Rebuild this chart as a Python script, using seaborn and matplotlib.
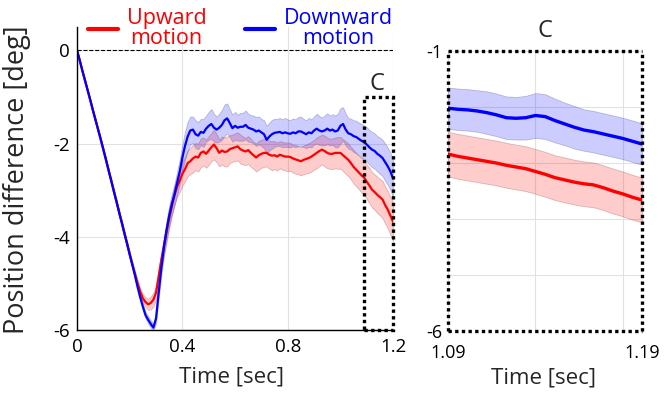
import numpy as np
import pandas as pd
import matplotlib
matplotlib.use("Agg")
import matplotlib.pyplot as plt
import seaborn as sns
from matplotlib.patches import Rectangle

# ---- data ----
time = np.round(np.arange(0, 1.2001, 0.01), 2)

upward = [
    0.00, -0.21, -0.43, -0.64, -0.85, -1.06, -1.28, -1.49, -1.70, -1.91,
    -2.13, -2.35, -2.58, -2.80, -3.03, -3.25, -3.48, -3.70, -3.93, -4.15,
    -4.38, -4.60, -4.80, -5.00, -5.18, -5.32, -5.40, -5.45, -5.42, -5.35,
    -5.20, -4.85, -4.50, -4.20, -3.90, -3.60, -3.35, -3.10, -2.92, -2.80,
    -2.65, -2.55, -2.42, -2.38, -2.32, -2.28, -2.30, -2.20, -2.17, -2.22,
    -2.15, -2.08, -2.02, -2.10, -2.20, -2.15, -2.18, -2.17, -2.12, -2.10,
    -2.08, -2.06, -2.12, -2.15, -2.17, -2.14, -2.20, -2.25, -2.30, -2.25,
    -2.22, -2.20, -2.20, -2.24, -2.26, -2.25, -2.28, -2.24, -2.26, -2.28,
    -2.28, -2.29, -2.32, -2.34, -2.36, -2.38, -2.35, -2.33, -2.31, -2.28,
    -2.24, -2.20, -2.16, -2.13, -2.16, -2.20, -2.22, -2.22, -2.20, -2.20,
    -2.20, -2.25, -2.30, -2.35, -2.42, -2.50, -2.56, -2.62, -2.68, -2.73,
    -2.82, -2.90, -2.99, -3.04, -3.10, -3.15, -3.20, -3.32, -3.42, -3.55,
    -3.68,
]
downward = [
    0.00, -0.21, -0.43, -0.64, -0.85, -1.06, -1.28, -1.49, -1.70, -1.91,
    -2.13, -2.35, -2.58, -2.80, -3.03, -3.25, -3.48, -3.70, -3.93, -4.15,
    -4.38, -4.60, -4.83, -5.08, -5.30, -5.50, -5.68, -5.78, -5.87, -5.95,
    -5.75, -5.20, -4.68, -4.22, -3.85, -3.55, -3.30, -3.10, -2.85, -2.60,
    -2.30, -2.05, -1.85, -1.72, -1.70, -1.80, -1.83, -1.75, -1.77, -1.68,
    -1.62, -1.58, -1.66, -1.70, -1.66, -1.60, -1.50, -1.46, -1.56, -1.67,
    -1.62, -1.66, -1.64, -1.64, -1.60, -1.66, -1.68, -1.70, -1.74, -1.72,
    -1.76, -1.80, -1.92, -1.85, -1.80, -1.77, -1.76, -1.75, -1.78, -1.76,
    -1.78, -1.79, -1.76, -1.78, -1.74, -1.74, -1.77, -1.80, -1.76, -1.78,
    -1.72, -1.68, -1.72, -1.74, -1.72, -1.68, -1.72, -1.70, -1.74, -1.72,
    -1.62, -1.58, -1.70, -1.78, -1.80, -1.84, -1.86, -1.90, -1.94, -1.97,
    -2.02, -2.08, -2.13, -2.16, -2.22, -2.26, -2.31, -2.40, -2.49, -2.60,
    -2.75,
]
upward_sem = [
    0.00, 0.01, 0.01, 0.02, 0.02, 0.02, 0.03, 0.03, 0.03, 0.03,
    0.04, 0.04, 0.04, 0.04, 0.05, 0.05, 0.05, 0.05, 0.06, 0.06,
    0.06, 0.07, 0.07, 0.08, 0.08, 0.09, 0.10, 0.12, 0.14, 0.15,
    0.15, 0.16, 0.18, 0.20, 0.22, 0.22, 0.20, 0.20, 0.22, 0.24,
    0.25, 0.26, 0.28, 0.28, 0.30, 0.29, 0.30, 0.31, 0.30, 0.30,
    0.31, 0.30, 0.32, 0.30, 0.29, 0.30, 0.31, 0.32, 0.30, 0.29,
    0.30, 0.30, 0.31, 0.30, 0.29, 0.30, 0.30, 0.29, 0.30, 0.31,
    0.30, 0.30, 0.29, 0.30, 0.31, 0.30, 0.30, 0.29, 0.30, 0.30,
    0.31, 0.30, 0.30, 0.31, 0.30, 0.30, 0.31, 0.31, 0.32, 0.32,
    0.32, 0.33, 0.32, 0.32, 0.33, 0.33, 0.32, 0.33, 0.33, 0.34,
    0.34, 0.34, 0.35, 0.35, 0.35, 0.36, 0.36, 0.36, 0.37, 0.37,
    0.37, 0.38, 0.38, 0.38, 0.39, 0.39, 0.40, 0.40, 0.40, 0.41,
    0.42,
]
downward_sem = [
    0.00, 0.01, 0.01, 0.02, 0.02, 0.02, 0.03, 0.03, 0.03, 0.03,
    0.04, 0.04, 0.04, 0.04, 0.05, 0.05, 0.05, 0.05, 0.05, 0.05,
    0.05, 0.05, 0.06, 0.06, 0.06, 0.07, 0.07, 0.08, 0.08, 0.08,
    0.10, 0.12, 0.15, 0.18, 0.20, 0.22, 0.22, 0.24, 0.25, 0.26,
    0.28, 0.30, 0.32, 0.30, 0.28, 0.30, 0.29, 0.28, 0.30, 0.28,
    0.30, 0.32, 0.30, 0.28, 0.30, 0.32, 0.34, 0.32, 0.30, 0.29,
    0.30, 0.28, 0.30, 0.30, 0.31, 0.30, 0.29, 0.30, 0.31, 0.30,
    0.29, 0.30, 0.30, 0.30, 0.31, 0.30, 0.29, 0.30, 0.30, 0.31,
    0.30, 0.29, 0.30, 0.30, 0.31, 0.32, 0.30, 0.30, 0.31, 0.30,
    0.30, 0.32, 0.31, 0.30, 0.32, 0.33, 0.32, 0.33, 0.34, 0.36,
    0.38, 0.36, 0.34, 0.33, 0.33, 0.34, 0.35, 0.35, 0.36, 0.36,
    0.37, 0.37, 0.38, 0.38, 0.38, 0.39, 0.39, 0.40, 0.40, 0.40,
    0.41,
]

# zoomed window C (1.09 - 1.19 s)
zoom_time = np.round(np.arange(1.09, 1.19001, 0.005), 3)
zoom_upward = [-2.84, -2.88, -2.91, -2.94, -2.97, -3.00, -3.04, -3.07, -3.10, -3.15,
               -3.20, -3.26, -3.30, -3.34, -3.37, -3.39, -3.44, -3.50, -3.55, -3.61,
               -3.66]
zoom_downward = [-2.02, -2.04, -2.05, -2.07, -2.10, -2.14, -2.19, -2.20, -2.19, -2.15,
                 -2.17, -2.24, -2.30, -2.36, -2.41, -2.44, -2.48, -2.52, -2.56, -2.61,
                 -2.66]
zoom_upward_sem = [0.40] * 21
zoom_downward_sem = [0.37, 0.37, 0.37, 0.37, 0.38, 0.38, 0.38, 0.38, 0.39, 0.40,
                     0.40, 0.39, 0.38, 0.38, 0.37, 0.37, 0.37, 0.37, 0.37, 0.37,
                     0.37]

RED = "#ff0000"
BLUE = "#0000ff"
DOTS = (0, (1, 1))

sns.set_theme(style="white")
plt.rcParams.update({
    "font.family": ["Open Sans", "DejaVu Sans"],
    "axes.unicode_minus": False,
    "xtick.direction": "in",
    "ytick.direction": "in",
    "xtick.major.pad": 6,
    "ytick.major.pad": 5,
    "xtick.labelsize": 13.5,
    "ytick.labelsize": 13.5,
})

df = pd.DataFrame({"time": time, "up": upward, "down": downward,
                   "up_sem": upward_sem, "down_sem": downward_sem})
dz = pd.DataFrame({"time": zoom_time, "up": zoom_upward, "down": zoom_downward,
                   "up_sem": zoom_upward_sem, "down_sem": zoom_downward_sem})

fig = plt.figure(figsize=(6.64, 3.96), dpi=100)
ax = fig.add_axes([0.116, 0.1667, 0.476, 0.765])
axz = fig.add_axes([0.675, 0.164, 0.292, 0.707])


def draw(a, d, lw):
    a.fill_between(d["time"], d["up"] - d["up_sem"], d["up"] + d["up_sem"],
                   facecolor=(1, 0, 0, 0.2), edgecolor=(0.55, 0.35, 0.35, 0.35), lw=0.6)
    a.fill_between(d["time"], d["down"] - d["down_sem"], d["down"] + d["down_sem"],
                   facecolor=(0, 0, 1, 0.2), edgecolor=(0.35, 0.35, 0.55, 0.35), lw=0.6)
    sns.lineplot(data=d, x="time", y="up", ax=a, color=RED, lw=lw,
                 label="Upward\nmotion")
    sns.lineplot(data=d, x="time", y="down", ax=a, color=BLUE, lw=lw,
                 label="Downward\nmotion")


# main panel
draw(ax, df, 1.6)
ax.axhline(0, color="black", ls="--", lw=0.8, zorder=1)
ax.set_xlim(0, 1.2)
ax.set_ylim(-6, 0.5)
ax.set_xticks([0, 0.4, 0.8, 1.2])
ax.set_xticklabels(["0", "0.4", "0.8", "1.2"])
ax.set_yticks([0, -2, -4, -6])
ax.set_yticklabels(["0", "-2", "-4", "-6"])
ax.grid(True, color="#e2e2e2", lw=0.8)
ax.set_axisbelow(True)
for s in ["top", "right"]:
    ax.spines[s].set_visible(False)
for s in ["left", "bottom"]:
    ax.spines[s].set_color("black")
    ax.spines[s].set_linewidth(1.0)
ax.tick_params(colors="black", length=3, width=0.8)
ax.set_xlabel("Time [sec]", fontsize=16)
ax.set_ylabel("Position difference [deg]", fontsize=19.5)
ax.xaxis.set_label_coords(0.49, -0.12)
ax.yaxis.set_label_coords(-0.145, 0.495)
box = Rectangle((1.09, -6), 0.11, 5, fill=False, lw=2.4, edgecolor="black",
                clip_on=False, zorder=5)
box.set_linestyle(DOTS)
box.set_capstyle("butt")
ax.add_patch(box)
ax.text(1.14, -0.72, "C", ha="center", va="center", fontsize=17)

leg = ax.legend(loc="center", bbox_to_anchor=(0.362, 0.928),
                bbox_transform=fig.transFigure, ncol=2, frameon=False,
                fontsize=15.5, handlelength=1.4, handletextpad=0.4,
                columnspacing=1.8, labelcolor="linecolor",
                labelspacing=0.2)
for line in leg.get_lines():
    line.set_linewidth(3)
for t in leg.get_texts():
    t.set_multialignment("center")
    t.set_linespacing(0.95)

# zoom panel C
draw(axz, dz, 2.4)
axz.get_legend().remove()
axz.set_xlim(1.09, 1.19)
axz.set_ylim(-6, -1)
axz.set_xticks([1.09, 1.135, 1.18, 1.19])
axz.set_xticklabels(["1.09", "", "", "1.19"])
axz.set_yticks([-1, -2, -3, -4, -5, -6])
axz.set_yticklabels(["-1", "", "", "", "", "-6"])
axz.grid(True, color="#e2e2e2", lw=0.8)
axz.set_axisbelow(True)
for s in axz.spines.values():
    s.set_linestyle(DOTS)
    s.set_capstyle("butt")
    s.set_linewidth(2.4)
    s.set_color("black")
axz.tick_params(colors="black", length=3, width=0.8, labelsize=13)
axz.tick_params(axis="x", pad=9)
axz.tick_params(axis="y", pad=4)
axz.set_xlabel("Time [sec]", fontsize=16)
axz.set_ylabel("")
axz.xaxis.set_label_coords(0.49, -0.13)
axz.set_title("C", fontsize=17, pad=10)

fig.savefig("out.png", dpi=100)
